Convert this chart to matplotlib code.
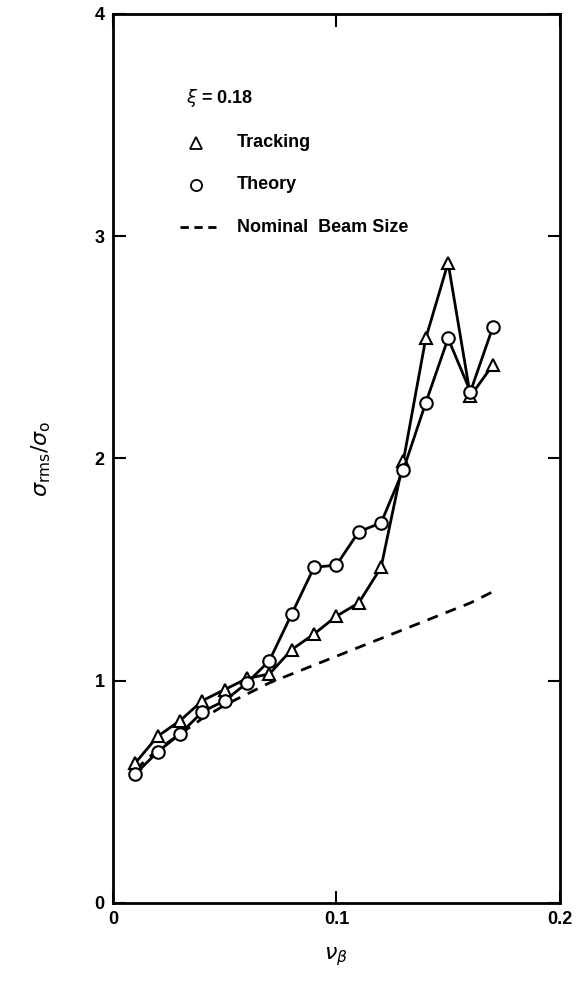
import matplotlib.pyplot as plt
import numpy as np

plt.rcParams['font.family'] = ['Liberation Sans', 'DejaVu Sans']
plt.rcParams['mathtext.fontset'] = 'dejavusans'

nu = [0.01, 0.02, 0.03, 0.04, 0.05, 0.06, 0.07, 0.08, 0.09,
      0.10, 0.11, 0.12, 0.13, 0.14, 0.15, 0.16, 0.17]
tracking = [0.63, 0.75, 0.82, 0.91, 0.96, 1.01, 1.03, 1.14, 1.21,
            1.29, 1.35, 1.51, 1.99, 2.54, 2.88, 2.28, 2.42]
theory = [0.58, 0.68, 0.76, 0.86, 0.91, 0.99, 1.09, 1.30, 1.51,
          1.52, 1.67, 1.71, 1.95, 2.25, 2.54, 2.30, 2.59]
nominal = [0.60, 0.69, 0.76, 0.83, 0.89, 0.94, 0.99, 1.03, 1.07,
           1.11, 1.15, 1.19, 1.23, 1.27, 1.31, 1.35, 1.40]

fig = plt.figure(figsize=(5.81, 9.89), dpi=100)
ax = fig.add_axes([0.1945, 0.087, 0.769, 0.899])

ax.plot(nu, nominal, 'k--', lw=2, dashes=(4, 3))
ax.plot(nu, tracking, 'k-', lw=2, marker='^', ms=9, mfc='white', mec='k', mew=1.5)
ax.plot(nu, theory, 'k-', lw=2, marker='o', ms=9, mfc='white', mec='k', mew=1.5)

ax.set_xlim(0, 0.2)
ax.set_ylim(0, 4)
ax.set_xticks([0, 0.1, 0.2])
ax.set_xticklabels(['0', '0.1', '0.2'])
ax.set_yticks([0, 1, 2, 3, 4])
ax.set_yticklabels(['0', '1', '2', '3', '4'])
ax.tick_params(direction='in', top=True, right=True, length=9, width=1.5,
               labelsize=13, pad=6)
for lab in ax.get_xticklabels() + ax.get_yticklabels():
    lab.set_fontweight('bold')
for s in ax.spines.values():
    s.set_linewidth(2)

# legend drawn by hand as in the original
ax.text(0.0325, 3.62, r'$\xi$ = 0.18', fontsize=13, fontweight='bold', va='center')
ax.plot([0.0370], [3.42], 'k^', ms=8, mfc='white', mew=1.3)
ax.text(0.0555, 3.42, 'Tracking', fontsize=13, fontweight='bold', va='center')
ax.plot([0.0370], [3.23], 'ko', ms=8, mfc='white', mew=1.3)
ax.text(0.0555, 3.23, 'Theory', fontsize=13, fontweight='bold', va='center')
ax.plot([0.030, 0.046], [3.04, 3.04], 'k--', lw=2, dashes=(3, 2))
ax.text(0.0555, 3.04, 'Nominal  Beam Size', fontsize=13, fontweight='bold', va='center')

ax.set_ylabel(r'$\sigma_{\rm rms}/\sigma_{\rm o}$', fontsize=16, labelpad=30)
ax.set_xlabel(r'$\nu_\beta$', fontsize=16, labelpad=12)

fig.savefig('out.png', dpi=100)
